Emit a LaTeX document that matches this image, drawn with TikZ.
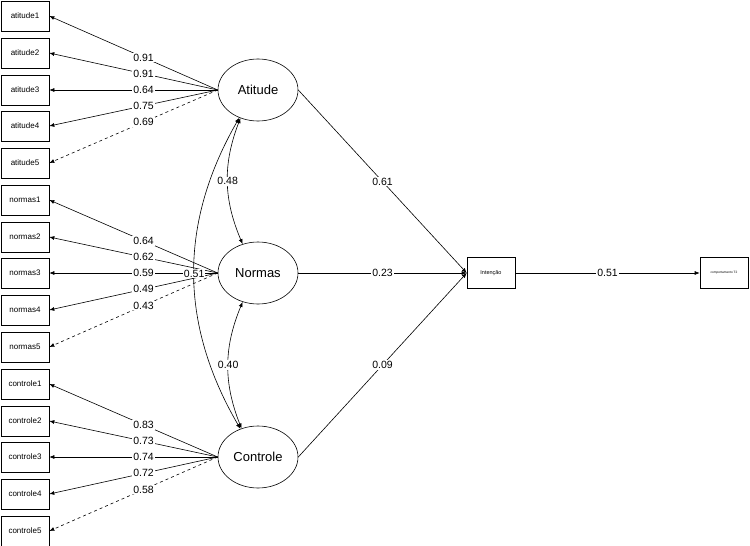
\documentclass[tikz,border=0pt]{standalone}
\usepackage{fontspec}
\setmainfont{Liberation Sans}
\usetikzlibrary{shapes,arrows.meta}

\begin{document}
\begin{tikzpicture}[x=1pt, y=-1pt, >={Latex[length=5pt,width=4pt]}, line width=0.6pt,
  ind/.style={rectangle, draw, minimum width=48pt, minimum height=30pt, inner sep=0pt, font=\fontsize{8}{9}\selectfont},
  lat/.style={ellipse, draw, minimum width=80pt, minimum height=62pt, inner sep=0pt, font=\fontsize{13}{15}\selectfont},
  lbl/.style={fill=white, inner sep=1pt, font=\fontsize{10.5}{12}\selectfont}]
\useasboundingbox (0,0) rectangle (750,546);

\node (At) at (258,90) [lat] {Atitude};
\node (No) at (258,273) [lat] {Normas};
\node (Co) at (258,457) [lat] {Controle};
\node (In) at (491,273) [ind, minimum height=31pt, font=\fontsize{5.5}{6}\selectfont] {Intenção};
\node (Cp) at (724,273) [ind, minimum height=31pt, font=\fontsize{3.2}{4}\selectfont] {comportamento T2};

\node (a1) at (25,16) [ind] {atitude1};
\node (a2) at (25,53) [ind] {atitude2};
\node (a3) at (25,90) [ind] {atitude3};
\node (a4) at (25,126) [ind] {atitude4};
\node (a5) at (25,163) [ind] {atitude5};
\node (n1) at (25,200) [ind] {normas1};
\node (n2) at (25,237) [ind] {normas2};
\node (n3) at (25,273) [ind] {normas3};
\node (n4) at (25,310) [ind] {normas4};
\node (n5) at (25,347) [ind] {normas5};
\node (c1) at (25,384) [ind] {controle1};
\node (c2) at (25,421) [ind] {controle2};
\node (c3) at (25,457) [ind] {controle3};
\node (c4) at (25,494) [ind] {controle4};
\node (c5) at (25,531) [ind] {controle5};

\draw[->] (At.west) -- (a1.east) node[lbl, pos=0.44] {0.91};
\draw[->] (At.west) -- (a2.east) node[lbl, pos=0.44] {0.91};
\draw[->] (At.west) -- (a3.east) node[lbl, pos=0.44] {0.64};
\draw[->] (At.west) -- (a4.east) node[lbl, pos=0.44] {0.75};
\draw[->, dashed] (At.west) -- (a5.east) node[lbl, pos=0.44] {0.69};

\draw[->] (No.west) -- (n1.east) node[lbl, pos=0.44] {0.64};
\draw[->] (No.west) -- (n2.east) node[lbl, pos=0.44] {0.62};
\draw[->] (No.west) -- (n3.east) node[lbl, pos=0.44] {0.59};
\draw[->] (No.west) -- (n4.east) node[lbl, pos=0.44] {0.49};
\draw[->, dashed] (No.west) -- (n5.east) node[lbl, pos=0.44] {0.43};

\draw[->] (Co.west) -- (c1.east) node[lbl, pos=0.44] {0.83};
\draw[->] (Co.west) -- (c2.east) node[lbl, pos=0.44] {0.73};
\draw[->] (Co.west) -- (c3.east) node[lbl, pos=0.44] {0.74};
\draw[->] (Co.west) -- (c4.east) node[lbl, pos=0.44] {0.72};
\draw[->, dashed] (Co.west) -- (c5.east) node[lbl, pos=0.44] {0.58};

\draw[<->] (At.238) to[bend right=22] node[lbl] {0.48} (No.118);
\draw[<->] (No.242) to[bend right=22] node[lbl] {0.40} (Co.120);
\draw[<->] (At.236) to[bend right=30] node[lbl] {0.51} (Co.122);

\draw[->] (At.east) -- (In.west) node[lbl, pos=0.5] {0.61};
\draw[->] (No.east) -- (In.west) node[lbl, pos=0.5] {0.23};
\draw[->] (Co.east) -- (In.west) node[lbl, pos=0.5] {0.09};
\draw[->] (In.east) -- (Cp.west) node[lbl, pos=0.5] {0.51};

\end{tikzpicture}
\end{document}
